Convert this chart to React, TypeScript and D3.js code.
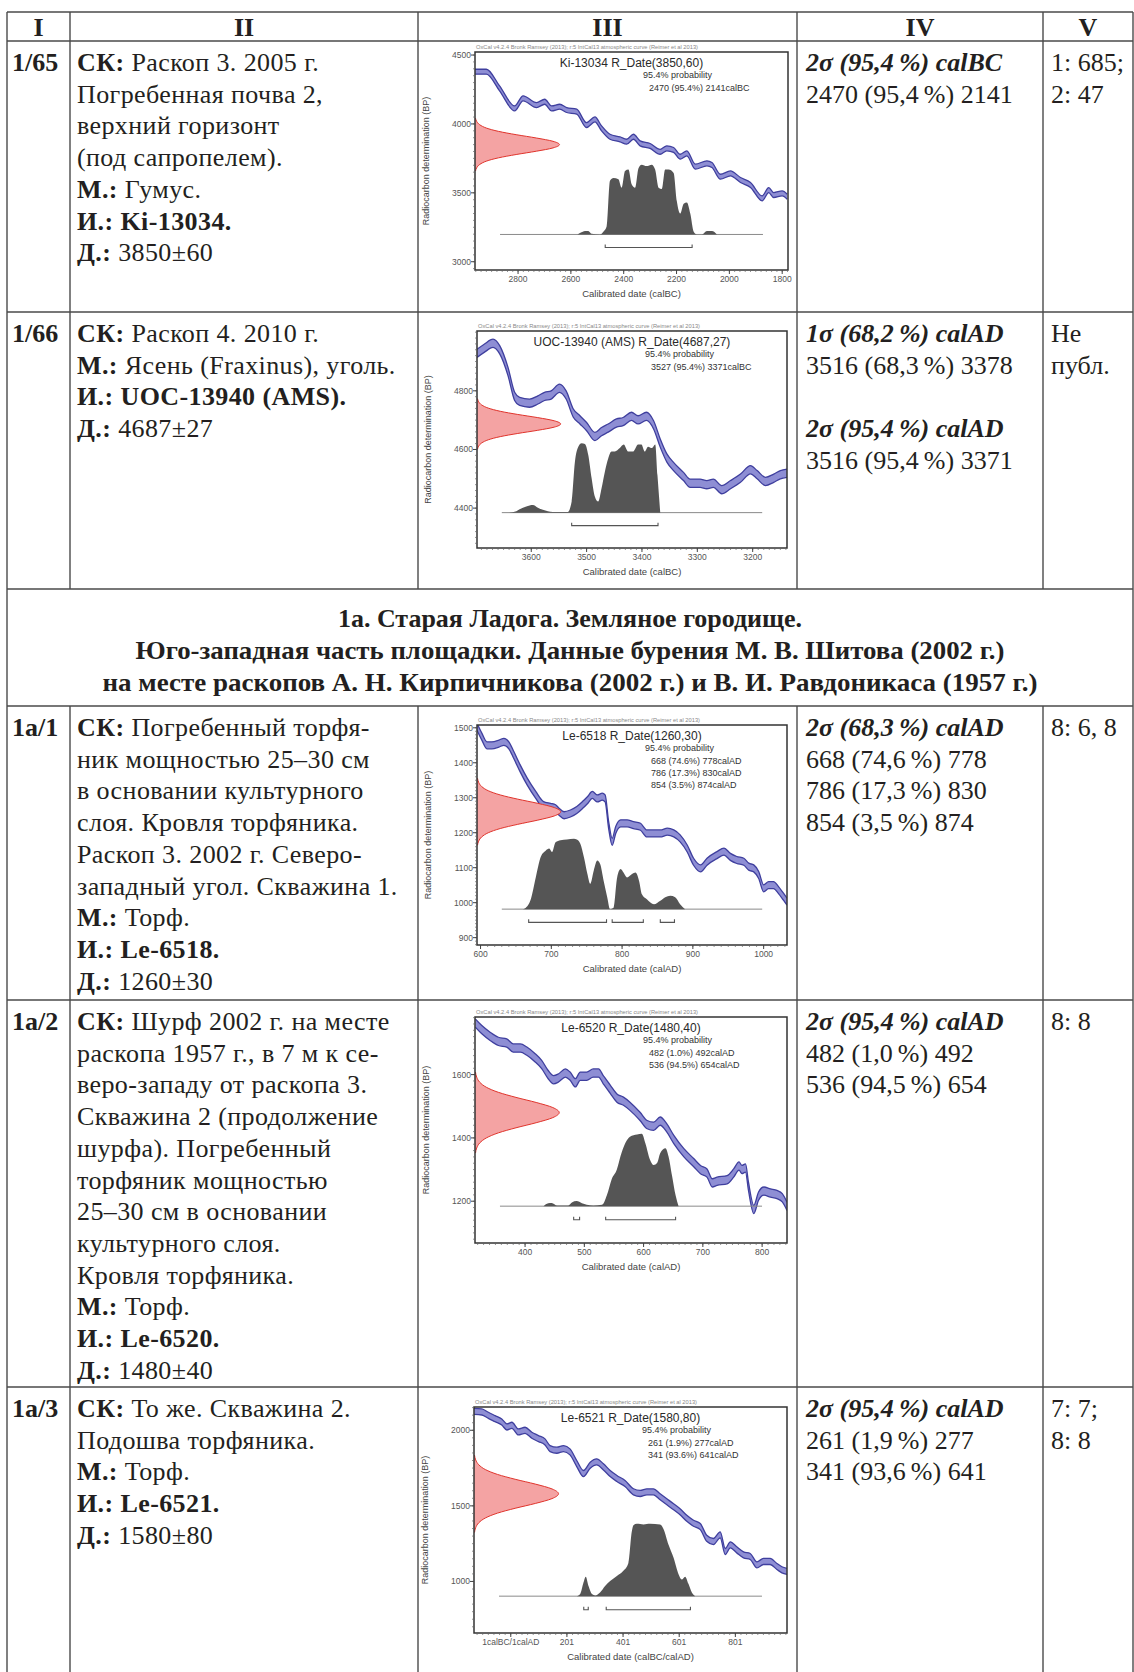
import * as d3 from "d3";

type Pt = [number, number];
type Box = { x: number; y: number; w: number; h: number };

// ---- column headers
const headers = ["I", "II", "III", "IV", "V"];

// ---- calibration curves [calendar year (negative = BC), BP]
const curve65: Pt[] = [
  [-2965, 4379], [-2920, 4379], [-2870, 4258], [-2813, 4113], [-2781, 4186], [-2730, 4137],
  [-2699, 4161], [-2673, 4113], [-2642, 4125], [-2616, 4101], [-2578, 4089], [-2541, 3992],
  [-2509, 4033], [-2484, 3968], [-2452, 3907], [-2414, 3888], [-2389, 3871], [-2363, 3907],
  [-2338, 3859], [-2300, 3840], [-2262, 3798], [-2237, 3823], [-2211, 3811], [-2186, 3762],
  [-2161, 3786], [-2129, 3690], [-2085, 3714], [-2066, 3702], [-2034, 3617], [-1996, 3641],
  [-1958, 3593], [-1920, 3557], [-1876, 3460], [-1851, 3520], [-1832, 3484], [-1800, 3496],
  [-1781, 3472],
];
const curve66: Pt[] = [
  [-3698, 4928], [-3685, 4945], [-3669, 4962], [-3657, 4940], [-3642, 4866], [-3630, 4781],
  [-3621, 4764], [-3603, 4758], [-3588, 4769], [-3576, 4781], [-3564, 4786], [-3549, 4809],
  [-3537, 4786], [-3524, 4724], [-3512, 4701], [-3500, 4678], [-3485, 4644], [-3473, 4661],
  [-3461, 4673], [-3446, 4690], [-3434, 4695], [-3419, 4713], [-3407, 4701], [-3392, 4713],
  [-3379, 4684], [-3367, 4622], [-3355, 4571], [-3343, 4542], [-3325, 4508], [-3313, 4485],
  [-3295, 4485], [-3283, 4480], [-3271, 4485], [-3256, 4463], [-3240, 4480], [-3222, 4502],
  [-3204, 4531], [-3192, 4514], [-3177, 4491], [-3162, 4502], [-3150, 4514], [-3138, 4519],
];
const curve6518: Pt[] = [
  [595, 1503], [602, 1474], [609, 1450], [616, 1450], [626, 1455], [633, 1460], [640, 1450],
  [647, 1422], [656, 1384], [666, 1346], [678, 1308], [689, 1279], [699, 1274], [706, 1270],
  [711, 1260], [718, 1250], [727, 1255], [736, 1265], [744, 1279], [751, 1293], [758, 1308],
  [765, 1298], [772, 1303], [776, 1298], [781, 1222], [786, 1174], [791, 1208], [798, 1227],
  [807, 1227], [816, 1222], [826, 1217], [835, 1198], [845, 1198], [854, 1198], [864, 1203],
  [873, 1198], [882, 1184], [892, 1155], [901, 1117], [911, 1098], [920, 1117], [934, 1136],
  [944, 1146], [953, 1131], [962, 1122], [972, 1117], [979, 1103], [986, 1098], [993, 1079],
  [1000, 1041], [1007, 1050], [1014, 1050], [1021, 1036], [1028, 1017], [1033, 1003],
];
const curve6520: Pt[] = [
  [316, 1763], [327, 1742], [341, 1721], [355, 1705], [369, 1700], [380, 1684], [392, 1684],
  [403, 1674], [417, 1653], [428, 1632], [439, 1600], [448, 1584], [456, 1589], [468, 1605],
  [476, 1595], [485, 1574], [493, 1595], [504, 1595], [515, 1605], [524, 1605], [532, 1584],
  [544, 1553], [555, 1526], [566, 1516], [577, 1500], [594, 1468], [606, 1442], [617, 1437],
  [628, 1453], [639, 1432], [651, 1395], [668, 1353], [685, 1321], [696, 1300], [707, 1289],
  [716, 1258], [724, 1263], [741, 1268], [752, 1289], [761, 1311], [766, 1300], [772, 1305],
  [777, 1247], [786, 1174], [794, 1216], [803, 1232], [814, 1226], [825, 1221], [834, 1211],
  [842, 1184],
];
const curve6521: Pt[] = [
  [-130, 2125], [-102, 2121], [-79, 2099], [-55, 2077], [-31, 2055], [-13, 2022], [5, 2033],
  [28, 1989], [52, 2000], [76, 1967], [100, 1945], [123, 1923], [141, 1879], [165, 1868],
  [189, 1879], [212, 1857], [236, 1780], [260, 1714], [284, 1769], [307, 1791], [331, 1758],
  [355, 1714], [379, 1681], [408, 1648], [438, 1593], [462, 1582], [486, 1593], [509, 1593],
  [533, 1560], [557, 1527], [581, 1494], [604, 1461], [628, 1418], [652, 1385], [676, 1363],
  [699, 1286], [723, 1264], [747, 1308], [765, 1198], [783, 1242], [806, 1209], [830, 1176],
  [854, 1165], [878, 1110], [901, 1132], [925, 1132], [949, 1099], [967, 1077], [985, 1066],
];

// ---- calibrated (posterior) distributions [year, relative probability]
const post65: Pt[] = [
  [-2575, 0], [-2560, 0.03], [-2547, 0.05], [-2534, 0.05], [-2522, 0.01], [-2490, 0],
  [-2477, 0.04], [-2465, 0.11], [-2452, 0.77], [-2439, 0.81], [-2420, 0.79], [-2408, 0.67],
  [-2395, 0.91], [-2382, 0.93], [-2370, 0.72], [-2357, 0.67], [-2344, 0.95], [-2332, 1.0],
  [-2313, 0.98], [-2294, 1.0], [-2281, 0.93], [-2268, 0.67], [-2256, 0.65], [-2243, 0.93],
  [-2230, 0.93], [-2211, 0.88], [-2199, 0.48], [-2186, 0.3], [-2173, 0.44], [-2161, 0.46],
  [-2148, 0.3], [-2135, 0.04], [-2123, 0], [-2104, 0], [-2085, 0.05], [-2066, 0.05], [-2047, 0],
];
const post66: Pt[] = [
  [-3640, 0], [-3627, 0.02], [-3621, 0.05], [-3609, 0.09], [-3597, 0.11], [-3588, 0.07],
  [-3579, 0.04], [-3561, 0.01], [-3534, 0.01], [-3527, 0.16], [-3521, 0.74], [-3515, 0.95],
  [-3509, 1.0], [-3503, 0.99], [-3497, 0.83], [-3491, 0.5], [-3485, 0.23], [-3479, 0.16],
  [-3473, 0.35], [-3467, 0.59], [-3461, 0.78], [-3455, 0.88], [-3449, 0.88], [-3440, 0.93],
  [-3433, 0.98], [-3425, 0.88], [-3416, 0.88], [-3407, 0.98], [-3401, 0.98], [-3395, 0.88],
  [-3389, 0.95], [-3382, 0.93], [-3376, 0.98], [-3372, 0.54], [-3367, 0],
];
const post6518: Pt[] = [
  [660, 0], [664, 0.02], [671, 0.14], [678, 0.45], [685, 0.74], [692, 0.83], [697, 0.86],
  [701, 0.81], [706, 0.95], [713, 0.98], [722, 0.99], [732, 1.0], [736, 0.99], [741, 0.93],
  [746, 0.74], [751, 0.5], [755, 0.36], [760, 0.55], [765, 0.69], [769, 0.64], [774, 0.4],
  [779, 0.17], [783, 0], [788, 0.02], [793, 0.45], [798, 0.57], [802, 0.52], [807, 0.45],
  [814, 0.5], [819, 0.52], [824, 0.4], [828, 0.21], [835, 0.14], [845, 0.07], [854, 0.12],
  [861, 0.17], [868, 0.19], [875, 0.17], [882, 0.07], [889, 0],
];
const post6520: Pt[] = [
  [431, 0], [439, 0.04], [445, 0.045], [454, 0.01], [473, 0.01], [479, 0.05], [487, 0.07],
  [496, 0.04], [504, 0.02], [515, 0.01], [530, 0.02], [538, 0.15], [546, 0.37], [555, 0.51],
  [561, 0.69], [569, 0.87], [577, 0.96], [589, 0.99], [597, 1.0], [603, 0.87], [611, 0.64],
  [617, 0.57], [623, 0.6], [628, 0.73], [637, 0.8], [642, 0.69], [648, 0.42], [654, 0.15],
  [659, 0],
];
const post6521: Pt[] = [
  [236, 0], [248, 0.03], [260, 0.19], [268, 0.27], [278, 0.14], [290, 0.03], [302, 0.01],
  [319, 0.05], [337, 0.14], [355, 0.21], [379, 0.28], [402, 0.35], [420, 0.46], [432, 0.89],
  [438, 0.98], [450, 1.0], [474, 0.99], [497, 1.0], [533, 0.99], [545, 0.93], [563, 0.71],
  [581, 0.53], [599, 0.3], [610, 0.23], [622, 0.27], [634, 0.17], [646, 0.05], [658, 0],
];

// ---- 95.4% ranges
const ranges65: Pt[] = [[-2470, -2141]];
const ranges66: Pt[] = [[-3527, -3371]];
const ranges6518: Pt[] = [[668, 778], [786, 830], [854, 874]];
const ranges6520: Pt[] = [[482, 492], [536, 654]];
const ranges6521: Pt[] = [[261, 277], [341, 641]];

// ---- shape of the measured date (sigma units, relative height)
const redProfile: Pt[] = [
  [-3.2, 0.006], [-2.8, 0.02], [-2.4, 0.056], [-2, 0.135], [-1.6, 0.278], [-1.2, 0.487],
  [-0.8, 0.726], [-0.4, 0.923], [0, 1], [0.4, 0.923], [0.8, 0.726], [1.2, 0.487],
  [1.6, 0.278], [2, 0.135], [2.4, 0.056], [2.8, 0.02], [3.2, 0.006],
];

type ChartData = {
  title: string;
  probLines: string[];
  date: number;
  sigma: number;
  curveErr: number;
  curve: Pt[];
  post: Pt[];
  ranges: Pt[];
  xDomain: Pt;
  yDomain: Pt;
  xTicks: number[];
  xTickLabels: string[];
  xMinor: number;
  yTicks: number[];
  yMinor: number;
  xLabel: string;
};

const chart65: ChartData = {
  title: "Ki-13034 R_Date(3850,60)",
  probLines: ["2470 (95.4%) 2141calBC"],
  date: 3850, sigma: 60, curveErr: 18,
  curve: curve65, post: post65, ranges: ranges65,
  xDomain: [-2963, -1778], yDomain: [2940, 4522],
  xTicks: [-2800, -2600, -2400, -2200, -2000, -1800],
  xTickLabels: ["2800", "2600", "2400", "2200", "2000", "1800"],
  xMinor: 20,
  yTicks: [3000, 3500, 4000, 4500], yMinor: 50,
  xLabel: "Calibrated date (calBC)",
};
const chart66: ChartData = {
  title: "UOC-13940 (AMS) R_Date(4687,27)",
  probLines: ["3527 (95.4%) 3371calBC"],
  date: 4687, sigma: 27, curveErr: 14,
  curve: curve66, post: post66, ranges: ranges66,
  xDomain: [-3698, -3138], yDomain: [4264, 5004],
  xTicks: [-3600, -3500, -3400, -3300, -3200],
  xTickLabels: ["3600", "3500", "3400", "3300", "3200"],
  xMinor: 10,
  yTicks: [4400, 4600, 4800], yMinor: 20,
  xLabel: "Calibrated date (calBC)",
};
const chart6518: ChartData = {
  title: "Le-6518 R_Date(1260,30)",
  probLines: ["668 (74.6%) 778calAD", "786 (17.3%) 830calAD", "854 (3.5%) 874calAD"],
  date: 1260, sigma: 30, curveErr: 10,
  curve: curve6518, post: post6518, ranges: ranges6518,
  xDomain: [595, 1033], yDomain: [879, 1508],
  xTicks: [600, 700, 800, 900, 1000],
  xTickLabels: ["600", "700", "800", "900", "1000"],
  xMinor: 10,
  yTicks: [900, 1000, 1100, 1200, 1300, 1400, 1500], yMinor: 10,
  xLabel: "Calibrated date (calAD)",
};
const chart6520: ChartData = {
  title: "Le-6520 R_Date(1480,40)",
  probLines: ["482 (1.0%) 492calAD", "536 (94.5%) 654calAD"],
  date: 1480, sigma: 40, curveErr: 13,
  curve: curve6520, post: post6520, ranges: ranges6520,
  xDomain: [315.5, 842], yDomain: [1068, 1782],
  xTicks: [400, 500, 600, 700, 800],
  xTickLabels: ["400", "500", "600", "700", "800"],
  xMinor: 10,
  yTicks: [1200, 1400, 1600], yMinor: 20,
  xLabel: "Calibrated date (calAD)",
};
const chart6521: ChartData = {
  title: "Le-6521 R_Date(1580,80)",
  probLines: ["261 (1.9%) 277calAD", "341 (93.6%) 641calAD"],
  date: 1580, sigma: 80, curveErr: 20,
  curve: curve6521, post: post6521, ranges: ranges6521,
  xDomain: [-130, 985], yDomain: [659, 2154],
  xTicks: [1, 201, 401, 601, 801],
  xTickLabels: ["1calBC/1calAD", "201", "401", "601", "801"],
  xMinor: 20,
  yTicks: [1000, 1500, 2000], yMinor: 50,
  xLabel: "Calibrated date (calBC/calAD)",
};

const oxcalNote =
  "OxCal v4.2.4 Bronk Ramsey (2013); r:5 IntCal13 atmospheric curve (Reimer et al 2013)";

// ---- table text. [bold part, regular part]
type Seg = [string, string];
const rowIds = ["1/65", "1/66", "1а/1", "1а/2", "1а/3"];
const colII: Seg[][] = [
  [
    ["СК:", " Раскоп 3. 2005 г."], ["", "Погребенная почва 2,"], ["", "верхний горизонт"],
    ["", "(под сапропелем)."], ["М.:", " Гумус."], ["И.: Ki-13034.", ""], ["Д.:", " 3850±60"],
  ],
  [
    ["СК:", " Раскоп 4. 2010 г."], ["М.:", " Ясень (Fraxinus), уголь."],
    ["И.: UOC-13940 (AMS).", ""], ["Д.:", " 4687±27"],
  ],
  [
    ["СК:", " Погребенный торфя-"], ["", "ник мощностью 25–30 см"], ["", "в основании культурного"],
    ["", "слоя. Кровля торфяника."], ["", "Раскоп 3. 2002 г. Северо-"],
    ["", "западный угол. Скважина 1."], ["М.:", " Торф."], ["И.: Le-6518.", ""],
    ["Д.:", " 1260±30"],
  ],
  [
    ["СК:", " Шурф 2002 г. на месте"], ["", "раскопа 1957 г., в 7 м к се-"],
    ["", "веро-западу от раскопа 3."], ["", "Скважина 2 (продолжение"], ["", "шурфа). Погребенный"],
    ["", "торфяник мощностью"], ["", "25–30 см в основании"], ["", "культурного слоя."],
    ["", "Кровля торфяника."], ["М.:", " Торф."], ["И.: Le-6520.", ""], ["Д.:", " 1480±40"],
  ],
  [
    ["СК:", " То же. Скважина 2."], ["", "Подошва торфяника."], ["М.:", " Торф."],
    ["И.: Le-6521.", ""], ["Д.:", " 1580±80"],
  ],
];
// "*" marks an italic bold heading
const colIV: string[][] = [
  ["*2σ (95,4\u2009%) calBC", "2470 (95,4\u2009%) 2141"],
  ["*1σ (68,2\u2009%) calAD", "3516 (68,3\u2009%) 3378", "", "*2σ (95,4\u2009%) calAD", "3516 (95,4\u2009%) 3371"],
  ["*2σ (68,3\u2009%) calAD", "668 (74,6\u2009%) 778", "786 (17,3\u2009%) 830", "854 (3,5\u2009%) 874"],
  ["*2σ (95,4\u2009%) calAD", "482 (1,0\u2009%) 492", "536 (94,5\u2009%) 654"],
  ["*2σ (95,4\u2009%) calAD", "261 (1,9\u2009%) 277", "341 (93,6\u2009%) 641"],
];
const colV: string[][] = [["1: 685;", "2: 47"], ["Не", "публ."], ["8: 6, 8"], ["8: 8"], ["7: 7;", "8: 8"]];
const sectionTitle = [
  "1а. Старая Ладога. Земляное городище.",
  "Юго-западная часть площадки. Данные бурения М. В. Шитова (2002 г.)",
  "на месте раскопов А. Н. Кирпичникова (2002 г.) и В. И. Равдоникаса (1957 г.)",
];
const charts = [chart65, chart66, chart6518, chart6520, chart6521];

// ---- layout
const W = 1134;
const H = 1672;
const colX = [7, 70, 418, 797, 1043, 1133];
const headTop = 12;
const headBottom = 41;
const rowTop = [41, 312, 706, 1000, 1387];
const sectionTop = 589;
const sectionBottom = 706;
const chartBoxes: Box[] = [
  { x: 475, y: 52, w: 313, h: 218 },
  { x: 477, y: 331, w: 310, h: 217 },
  { x: 477, y: 725, w: 310, h: 220 },
  { x: 475, y: 1017, w: 312, h: 226 },
  { x: 474, y: 1407, w: 313, h: 226 },
];
const LINE = 31.7;
const SERIF = "'Liberation Serif', 'Times New Roman', serif";
const SANS = "'Liberation Sans', Arial, sans-serif";
const INK = "#231f20";

function OxCalPlot({ box, c, id }: { box: Box; c: ChartData; id: string }) {
  const { x: fx, y: fy, w, h } = box;
  const x = d3.scaleLinear().domain(c.xDomain).range([fx, fx + w]);
  const y = d3.scaleLinear().domain(c.yDomain).range([fy + h, fy]);

  const band = d3.area<Pt>()
    .x((d) => x(d[0]))
    .y0((d) => y(d[1] - c.curveErr))
    .y1((d) => y(d[1] + c.curveErr))
    .curve(d3.curveMonotoneX);
  const edge = (s: number) =>
    d3.line<Pt>().x((d) => x(d[0])).y((d) => y(d[1] + s * c.curveErr)).curve(d3.curveMonotoneX)(c.curve) ?? "";

  const redW = 0.27 * w;
  const red = d3.area<Pt>()
    .y((d) => y(c.date + d[0] * c.sigma))
    .x0(fx)
    .x1((d) => fx + d[1] * redW)
    .curve(d3.curveMonotoneY);
  const redLine = d3.line<Pt>()
    .y((d) => y(c.date + d[0] * c.sigma))
    .x((d) => fx + d[1] * redW)
    .curve(d3.curveMonotoneY);
  const redPts = [...redProfile].sort((a, b) => b[0] - a[0]);

  const base = fy + 0.837 * h;
  const postH = 0.32 * h;
  const post = d3.area<Pt>()
    .x((d) => x(d[0]))
    .y0(base)
    .y1((d) => base - d[1] * postH)
    .curve(d3.curveMonotoneX);
  const bracketY = fy + 0.897 * h;

  const xStep = c.xTicks[1] - c.xTicks[0];
  const yStep = c.yTicks[1] - c.yTicks[0];
  const xMinor = d3.range(c.xTicks[0] - xStep, c.xDomain[1], c.xMinor).filter((v) => v >= c.xDomain[0]);
  const yMinor = d3.range(c.yTicks[0] - yStep, c.yDomain[1], c.yMinor).filter((v) => v >= c.yDomain[0]);

  return (
    <g>
      <defs>
        <clipPath id={id}>
          <rect x={fx} y={fy} width={w} height={h} />
        </clipPath>
      </defs>
      <text x={fx + 1} y={fy - 3} fontSize={4.5} fill="#888" fontFamily={SANS} textLength={222} lengthAdjust="spacingAndGlyphs">
        {oxcalNote}
      </text>
      <g clipPath={`url(#${id})`}>
        <path d={band(c.curve) ?? ""} fill="#8e8ed4" />
        <path d={edge(1)} fill="none" stroke="#3f3f9e" strokeWidth={1.3} />
        <path d={edge(-1)} fill="none" stroke="#3f3f9e" strokeWidth={1.3} />
        <path d={red(redPts) ?? ""} fill="#f4a3a3" />
        <path d={redLine(redPts) ?? ""} fill="none" stroke="#e0342c" strokeWidth={1} />
        <line x1={fx + 0.08 * w} x2={fx + w - 0.08 * w} y1={base} y2={base} stroke="#8a8a8a" strokeWidth={1} />
        <path d={post(c.post) ?? ""} fill="#555" />
        {c.ranges.map((r, i) => (
          <path
            key={i}
            d={`M${x(r[0])},${bracketY - 3}V${bracketY}H${x(r[1])}V${bracketY - 3}`}
            fill="none"
            stroke="#555"
            strokeWidth={1.1}
          />
        ))}
      </g>
      <rect x={fx} y={fy} width={w} height={h} fill="none" stroke="#333" strokeWidth={1.5} />
      {xMinor.map((v) => (
        <line key={`xm${v}`} x1={x(v)} x2={x(v)} y1={fy + h} y2={fy + h + 2} stroke="#666" strokeWidth={0.7} />
      ))}
      {yMinor.map((v) => (
        <line key={`ym${v}`} x1={fx - 2} x2={fx} y1={y(v)} y2={y(v)} stroke="#666" strokeWidth={0.7} />
      ))}
      {c.xTicks.map((v, i) => (
        <g key={`xt${v}`}>
          <line x1={x(v)} x2={x(v)} y1={fy + h} y2={fy + h + 4} stroke="#444" strokeWidth={1} />
          <text x={x(v)} y={fy + h + 12} fontSize={8.5} fill="#555" textAnchor="middle" fontFamily={SANS}>
            {c.xTickLabels[i]}
          </text>
        </g>
      ))}
      {c.yTicks.map((v) => (
        <g key={`yt${v}`}>
          <line x1={fx - 4} x2={fx} y1={y(v)} y2={y(v)} stroke="#444" strokeWidth={1} />
          <text x={fx - 4} y={y(v) + 3} fontSize={8.5} fill="#555" textAnchor="end" fontFamily={SANS}>
            {v}
          </text>
        </g>
      ))}
      <text x={fx + w / 2} y={fy + 15} fontSize={12} fill="#2a2a2a" textAnchor="middle" fontFamily={SANS}>
        {c.title}
      </text>
      <text x={fx + 168} y={fy + 26} fontSize={9} fill="#333" fontFamily={SANS}>
        95.4% probability
      </text>
      {c.probLines.map((t, i) => (
        <text key={t} x={fx + 174} y={fy + 38.5 + i * 12} fontSize={9} fill="#333" fontFamily={SANS}>
          {t}
        </text>
      ))}
      <text
        transform={`translate(${fx - 46},${fy + h / 2}) rotate(-90)`}
        fontSize={9}
        fill="#444"
        textAnchor="middle"
        fontFamily={SANS}
      >
        Radiocarbon determination (BP)
      </text>
      <text x={fx + w / 2} y={fy + h + 27} fontSize={9.5} fill="#444" textAnchor="middle" fontFamily={SANS}>
        {c.xLabel}
      </text>
    </g>
  );
}

export default function App() {
  const hLines = [headTop, headBottom, rowTop[1], sectionTop, sectionBottom, rowTop[3], rowTop[4]];
  return (
    <div style={{ position: "absolute", left: 0, top: 0, background: "#fff" }}>
      <svg width={W} height={H} style={{ display: "block" }}>
        <rect width={W} height={H} fill="#fff" />

        {/* header */}
        {headers.map((t, i) => (
          <text
            key={t}
            x={(colX[i] + colX[i + 1]) / 2}
            y={headBottom - 5}
            fontSize={26}
            fontWeight="bold"
            textAnchor="middle"
            fontFamily={SERIF}
            fill={INK}
          >
            {t}
          </text>
        ))}

        {rowIds.map((idText, r) => {
          const top = rowTop[r];
          return (
            <g key={idText}>
              <text x={12} y={top + 30} fontSize={26} fontWeight="bold" fontFamily={SERIF} fill={INK}>
                {idText}
              </text>
              {colII[r].map((seg, i) => (
                <text
                  key={i}
                  x={77}
                  y={top + 30 + i * LINE}
                  fontSize={26}
                  letterSpacing={0.4}
                  fontFamily={SERIF}
                  fill={INK}
                >
                  {seg[0] && <tspan fontWeight="bold">{seg[0]}</tspan>}
                  {seg[1]}
                </text>
              ))}
              {colIV[r].map((t, i) =>
                t ? (
                  <text
                    key={i}
                    x={806}
                    y={top + 30 + i * LINE}
                    fontSize={26}
                    fontFamily={SERIF}
                    fill={INK}
                    fontWeight={t.startsWith("*") ? "bold" : "normal"}
                    fontStyle={t.startsWith("*") ? "italic" : "normal"}
                  >
                    {t.replace("*", "")}
                  </text>
                ) : null
              )}
              {colV[r].map((t, i) => (
                <text key={i} x={1051} y={top + 30 + i * LINE} fontSize={26} fontFamily={SERIF} fill={INK}>
                  {t}
                </text>
              ))}
              <OxCalPlot box={chartBoxes[r]} c={charts[r]} id={`clip${r}`} />
            </g>
          );
        })}

        {/* section title */}
        {sectionTitle.map((t, i) => (
          <text
            key={i}
            x={(colX[0] + colX[5]) / 2}
            y={627 + i * 32}
            fontSize={25}
            fontWeight="bold"
            textAnchor="middle"
            fontFamily={SERIF}
            fill={INK}
            textLength={[464, 869, 935][i]}
            lengthAdjust="spacingAndGlyphs"
          >
            {t}
          </text>
        ))}

        {/* grid */}
        <g stroke="#4a4a4a" strokeWidth={1.4}>
          {hLines.map((yy) => (
            <line key={yy} x1={colX[0]} x2={colX[5]} y1={yy} y2={yy} />
          ))}
          <line x1={colX[0]} x2={colX[0]} y1={headTop} y2={H} />
          <line x1={colX[5]} x2={colX[5]} y1={headTop} y2={H} />
          {colX.slice(1, 5).map((xx) => (
            <g key={xx}>
              <line x1={xx} x2={xx} y1={headTop} y2={sectionTop} />
              <line x1={xx} x2={xx} y1={sectionBottom} y2={H} />
            </g>
          ))}
        </g>
      </svg>
    </div>
  );
}
